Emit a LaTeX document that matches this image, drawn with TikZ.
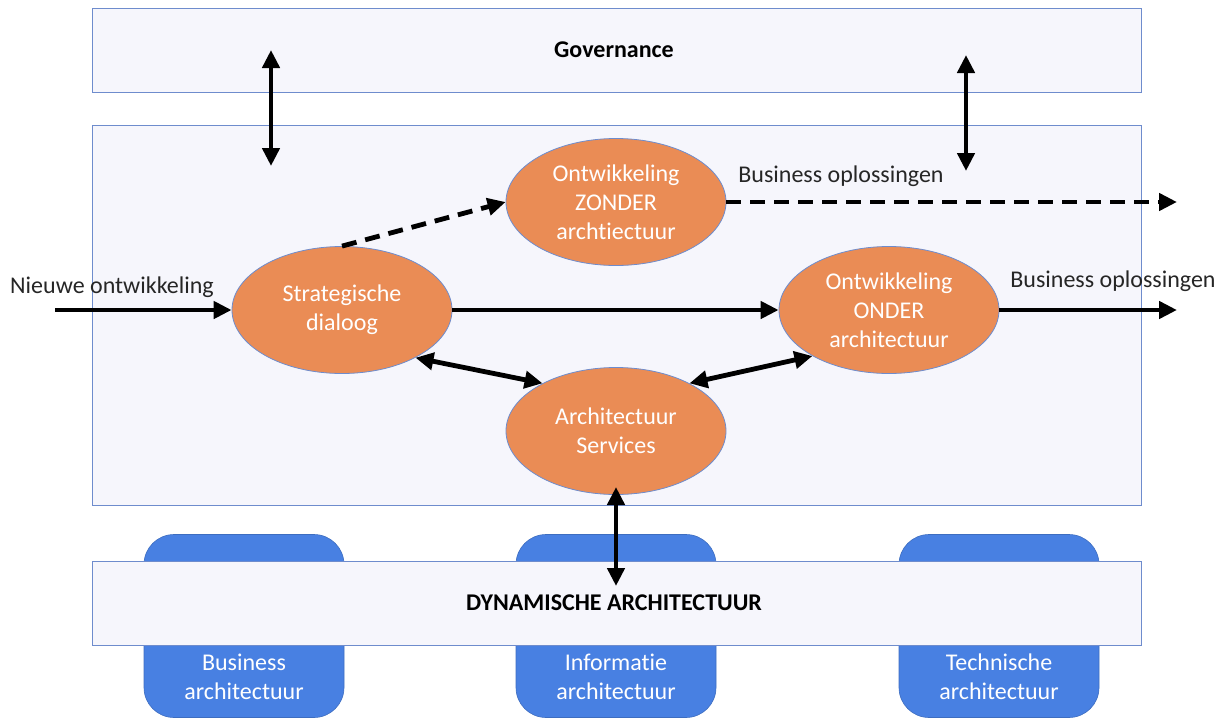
\documentclass[tikz,border=0pt]{standalone}
\usepackage{fontspec}
\setmainfont{Carlito}[Ligatures=NoCommon]
\usetikzlibrary{shapes.geometric,arrows.meta}
\definecolor{panelfill}{RGB}{246,246,252}
\definecolor{panelline}{RGB}{110,140,205}
\definecolor{orangefill}{RGB}{234,140,85}
\definecolor{bluefill}{RGB}{72,128,226}
\tikzset{
  panel/.style={draw=panelline, line width=1pt, fill=panelfill},
  layerbox/.style={fill=bluefill, draw=bluefill!85!black, line width=0.6pt, rounded corners=30pt,
                   minimum width=200pt, minimum height=183pt, inner sep=0pt},
  proc/.style={ellipse, fill=orangefill, draw=panelline, line width=0.8pt,
               minimum width=220pt, minimum height=127pt, inner sep=0pt,
               text=white, align=center, font=\fontsize{24}{29}\selectfont},
  lbl/.style={font=\fontsize{24}{29}\selectfont, text=black!85, inner sep=0pt},
  whitelbl/.style={font=\fontsize{24}{29}\selectfont, text=white, align=center, inner sep=0pt},
  flow/.style={line width=4.8pt, -{Triangle[length=18pt,width=17pt]}},
  dflow/.style={flow, dash pattern=on 15pt off 9pt},
  bflow/.style={line width=4.8pt, {Triangle[length=18pt,width=17pt]}-{Triangle[length=18pt,width=17pt]}},
}
\begin{document}
\begin{tikzpicture}[x=1pt,y=-1pt]
\useasboundingbox (0,0) rectangle (1231,718);

% architecture layers behind the dynamic band
\node[layerbox] (bus) at (244,626) {};
\node[layerbox] (inf) at (616,626) {};
\node[layerbox] (tec) at (999,626) {};
\node[whitelbl] at (244,677) {Business\\architectuur};
\node[whitelbl] at (616,677) {Informatie\\architectuur};
\node[whitelbl] at (999,677) {Technische\\architectuur};

% panels
\draw[panel] (92,8) rectangle (1141,92);
\node[font=\fontsize{24}{29}\selectfont\bfseries] (gov) at (614,50) {Governance};
\draw[panel] (92,125) rectangle (1141,505);
\draw[panel] (92,561) rectangle (1141,645);
\node[font=\fontsize{24}{29}\selectfont\bfseries] (dyn) at (614,603) {DYNAMISCHE ARCHITECTUUR};

% processes
\node[proc] (strat) at (342,310) {Strategische\\dialoog};
\node[proc] (zonder) at (616,202) {Ontwikkeling\\ZONDER\\archtiectuur};
\node[proc] (onder) at (889,310) {Ontwikkeling\\ONDER\\architectuur};
\node[proc] (serv) at (616,431) {Architectuur\\Services};

% free ends of connectors
\coordinate (in) at (55,310);
\coordinate (outA) at (1177,202);
\coordinate (outB) at (1177,310);
\coordinate (govLt) at (271,50);
\coordinate (govLb) at (271,166);
\coordinate (govRt) at (966,55);
\coordinate (govRb) at (966,171);
\coordinate (servB) at (616,487);
\coordinate (dynT) at (616,586);

% connectors
\draw[bflow] (govLt) -- (govLb);
\draw[bflow] (govRt) -- (govRb);
\draw[flow] (in) -- (strat.west);
\draw[flow] (strat.east) -- (onder.west);
\draw[flow] (onder.east) -- (outB);
\draw[dflow] (strat.north) -- (zonder.west);
\draw[dflow] (zonder.east) -- (outA);
\draw[bflow] (strat.-33) -- (serv.147);
\draw[bflow] (serv.33) -- (onder.-149);
\draw[bflow] (servB) -- (dynT);

% labels
\node[lbl] (lin) at (112,287) {Nieuwe ontwikkeling};
\node[lbl] (loutA) at (841,176) {Business oplossingen};
\node[lbl] (loutB) at (1113,281) {Business oplossingen};
\end{tikzpicture}
\end{document}
